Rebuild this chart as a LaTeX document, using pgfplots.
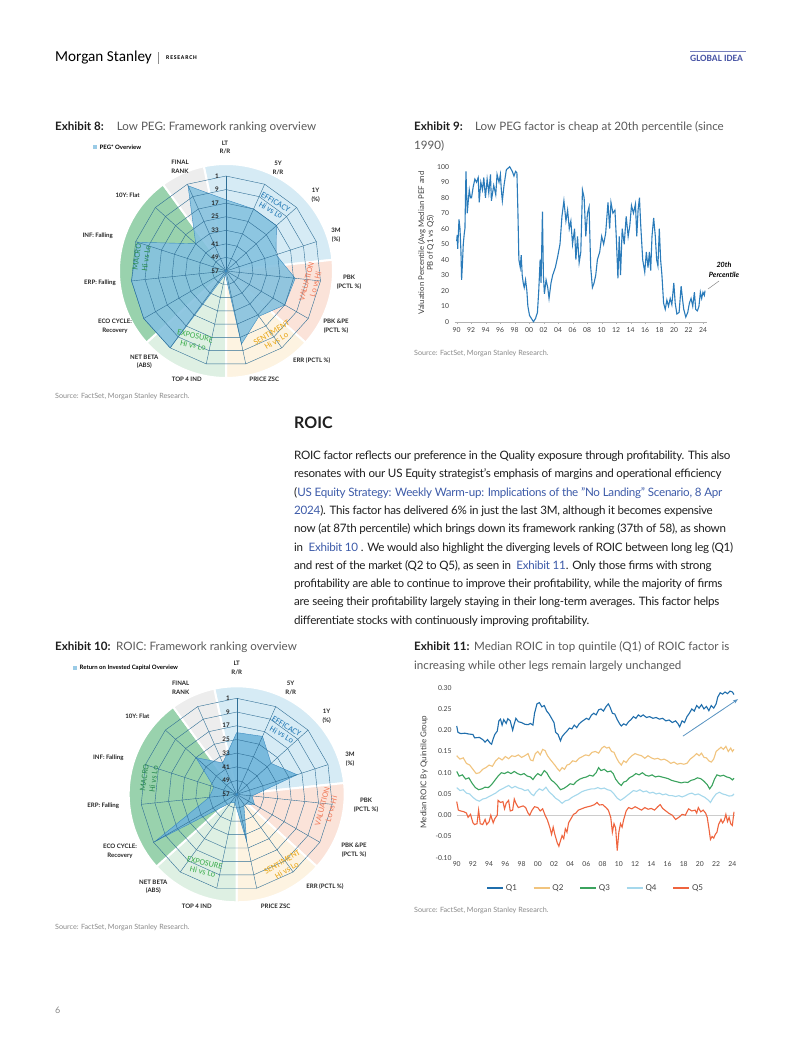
\documentclass[border=0pt]{standalone}
\usepackage{fontspec}
\setmainfont{Lato}
\newfontfamily\calib{Carlito}
\usepackage{pgfplots}
\pgfplotsset{compat=1.18}
\usepgfplotslibrary{polar}
\usetikzlibrary{arrows.meta}

\definecolor{txt}{HTML}{1F1F1F}
\definecolor{capg}{HTML}{5A5A5A}
\definecolor{srcg}{HTML}{8A8A8A}
\definecolor{link}{HTML}{3D5BA9}
\definecolor{msblue}{HTML}{4A56A6}
\definecolor{effc}{HTML}{D6EBF5}
\definecolor{valc}{HTML}{FBE3D9}
\definecolor{senc}{HTML}{FDF3E1}
\definecolor{expc}{HTML}{DEF0E3}
\definecolor{macc}{HTML}{99D2AD}
\definecolor{finc}{HTML}{EDEDED}
\definecolor{radfill}{HTML}{6FB5DB}
\definecolor{radfillb}{HTML}{86C2DF}
\definecolor{radline}{HTML}{3A8AC0}
\definecolor{gridc}{HTML}{2F6E95}
\definecolor{efft}{HTML}{1F77B4}
\definecolor{valt}{HTML}{F07A5A}
\definecolor{sent}{HTML}{E8A512}
\definecolor{expt}{HTML}{3DAE4E}
\definecolor{mact}{HTML}{2A8A50}
\definecolor{lineb}{HTML}{2A7BBA}
\definecolor{qa}{HTML}{1F6EAC}
\definecolor{qb}{HTML}{F1C47E}
\definecolor{qc}{HTML}{3BA35E}
\definecolor{qd}{HTML}{A5D8EC}
\definecolor{qe}{HTML}{EF643E}
\definecolor{tickc}{HTML}{404040}

\tikzset{t/.style={inner sep=0pt, anchor=base west},
  rl/.style={inner sep=0pt, align=center, font=\bfseries\fontsize{6.1}{8.6}\selectfont, text=black!85},
  rk/.style={inner sep=0pt, anchor=east, font=\bfseries\fontsize{6.3}{7}\selectfont, text=black!85},
  st/.style={inner sep=0pt, align=center, font=\calib\fontsize{8.4}{9.4}\selectfont}}

\newcommand{\sectors}[3]{%
\begin{scope}[x=1pt,y=-1pt,shift={(#1,#2)}]
\filldraw[fill=effc,draw=white,line width=2pt] (0pt,0pt) -- (102:#3pt) arc[start angle=102,end angle=6,radius=#3pt] -- cycle;
\filldraw[fill=valc,draw=white,line width=2pt] (0pt,0pt) -- (6:#3pt) arc[start angle=6,end angle=-42,radius=#3pt] -- cycle;
\filldraw[fill=senc,draw=white,line width=2pt] (0pt,0pt) -- (-42:#3pt) arc[start angle=-42,end angle=-90,radius=#3pt] -- cycle;
\filldraw[fill=expc,draw=white,line width=2pt] (0pt,0pt) -- (-90:#3pt) arc[start angle=-90,end angle=-138,radius=#3pt] -- cycle;
\filldraw[fill=macc,draw=white,line width=2pt] (0pt,0pt) -- (222:#3pt) arc[start angle=222,end angle=126,radius=#3pt] -- cycle;
\filldraw[fill=finc,draw=white,line width=2pt] (0pt,0pt) -- (126:#3pt) arc[start angle=126,end angle=102,radius=#3pt] -- cycle;
\end{scope}}

\newcommand{\radargrid}{%
\pgfplotsinvokeforeach{8,16,24,32,40,48,56}{\addplot[gridc,line width=0.4pt] coordinates {(90,##1)(66,##1)(42,##1)(18,##1)(354,##1)(330,##1)(306,##1)(282,##1)(258,##1)(234,##1)(210,##1)(186,##1)(162,##1)(138,##1)(114,##1)(90,##1)};}
\pgfplotsinvokeforeach{90,66,42,18,354,330,306,282,258,234,210,186,162,138,114}{\addplot[gridc,line width=0.4pt] coordinates {(##1,0)(##1,56)};}
}

\begin{document}
\begin{tikzpicture}
\begin{scope}[x=1pt,y=-1pt]
\useasboundingbox (0,0) rectangle (802,1037);
\fill[white] (0,0) rectangle (802,1037);

% ---------- header ----------
\node[inner sep=0pt, anchor=west, font=\calib\fontsize{15.2}{16}\selectfont] at (55,57.5) {Morgan Stanley};
\draw[black!45, line width=0.5pt] (158.5,52) -- (158.5,63.5);
\node[inner sep=0pt, anchor=west, font=\calib\bfseries\fontsize{5.8}{6}\selectfont\addfontfeatures{LetterSpace=14}] at (166,58) {RESEARCH};
\draw[msblue!75, line width=1.6pt] (690,51.5) -- (746,51.5);
\node[inner sep=0pt, anchor=west, font=\calib\bfseries\fontsize{9.6}{10}\selectfont, text=msblue] at (690,58.5) {GLOBAL IDEA};

% ---------- captions ----------
\begin{scope}[font=\fontsize{11.6}{14}\selectfont]
\node[t] at (55,130.3) {\bfseries\color{txt}Exhibit 8:};
\node[t] at (116.7,130.3) {\color{capg}Low PEG: Framework ranking overview};
\node[t] at (414,130.3) {\bfseries\color{txt}Exhibit 9:};
\node[t] at (475,130.3) {\color{capg}Low PEG factor is cheap at 20th percentile (since};
\node[t] at (414,149.3) {\color{capg}1990)};
\node[t] at (55,650.5) {\bfseries\color{txt}Exhibit 10:};
\node[t] at (116,650.5) {\color{capg}ROIC: Framework ranking overview};
\node[t] at (414,650.5) {\bfseries\color{txt}Exhibit 11:};
\node[t] at (474,650.5) {\color{capg}Median ROIC in top quintile (Q1) of ROIC factor is};
\node[t] at (414,669) {\color{capg}increasing while other legs remain largely unchanged};
\end{scope}

% ---------- sources ----------
\begin{scope}[font=\fontsize{7.2}{8}\selectfont, text=srcg]
\node[t] at (55,398.5) {Source: FactSet, Morgan Stanley Research.};
\node[t] at (414,355.3) {Source: FactSet, Morgan Stanley Research.};
\node[t] at (55,929) {Source: FactSet, Morgan Stanley Research.};
\node[t] at (414,912) {Source: FactSet, Morgan Stanley Research.};
\end{scope}

% ---------- body text ----------
\node[t, font=\bfseries\fontsize{16}{18}\selectfont, text=txt] at (294,428.5) {ROIC};
\begin{scope}[font=\fontsize{11.6}{14}\selectfont\addfontfeatures{LetterSpace=-2.2}, text=txt]
\node[t] at (294,459.5) {ROIC factor reflects our preference in the Quality exposure through profitability. This also};
\node[t] at (294,477.8) {resonates with our US Equity strategist's emphasis of margins and operational efficiency};
\node[t] at (294,496.1) {({\color{link}US Equity Strategy: Weekly Warm-up: Implications of the "No Landing" Scenario, 8 Apr}};
\node[t] at (294,514.4) {{\color{link}2024}). This factor has delivered 6\% in just the last 3M, although it becomes expensive};
\node[t] at (294,532.7) {now (at 87th percentile) which brings down its framework ranking (37th of 58), as shown};
\node[t] at (294,551.0) {in \ {\color{link}Exhibit 10} . We would also highlight the diverging levels of ROIC between long leg (Q1)};
\node[t] at (294,569.3) {and rest of the market (Q2 to Q5), as seen in \ {\color{link}Exhibit 11}. Only those firms with strong};
\node[t] at (294,587.6) {profitability are able to continue to improve their profitability, while the majority of firms};
\node[t] at (294,605.9) {are seeing their profitability largely staying in their long-term averages. This factor helps};
\node[t] at (294,624.2) {differentiate stocks with continuously improving profitability.};
\end{scope}
\node[inner sep=0pt, anchor=west, font=\fontsize{9}{10}\selectfont, text=srcg] at (55,1010) {6};
\end{scope}

% ================= Exhibit 8 radar =================
\sectors{226}{271}{107}
\begin{polaraxis}[at={(226pt,-271pt)}, anchor=center, scale only axis, width=190pt, height=190pt,
  ymin=0, ymax=56, hide axis, clip=false]
\addplot[fill=radfillb, fill opacity=0.9, draw=radline, line width=0.4pt] coordinates {(90,42)(66,40)(42,40)(18,31)(354,41)(330,40)(306,33)(282,44)(258,2)(234,56)(210,56)(186,56)(162,55)(138,24)(114,55)(90,42)};
\radargrid
\end{polaraxis}

% ================= Exhibit 10 radar =================
\sectors{236.7}{794.3}{108}
\begin{polaraxis}[at={(236.7pt,-794.3pt)}, anchor=center, scale only axis, width=192pt, height=192pt,
  ymin=0, ymax=56, hide axis, clip=false]
\addplot[fill=radfill, fill opacity=0.9, draw=radline, line width=0.4pt] coordinates {(90,36)(66,37)(42,27)(18,37)(354,9)(330,12)(306,7)(282,28)(258,5)(234,6)(210,55)(186,16)(162,14)(138,32)(114,20)(90,36)};
\radargrid
\end{polaraxis}

\begin{scope}[x=1pt,y=-1pt]
\fill[radline] (226,271) circle (1.5pt);
\foreach \yy/\lab in {176.0/1,189.6/9,203.1/17,216.7/25,230.3/33,243.9/41,257.4/49,271.0/57}
  \node[rk] at (219,\yy) {\lab};
\fill[radfill!70] (93,144.8) rectangle (97,148.8);
\node[inner sep=0pt, anchor=west, font=\bfseries\fontsize{6}{7}\selectfont] at (99.5,146.8) {PEG* Overview};
\node[rl] at (225,147.5) {LT\\R/R};
\node[rl] at (180,166.5) {FINAL\\RANK};
\node[rl] at (278,168) {5Y\\R/R};
\node[rl] at (315.7,195.5) {1Y\\(\%)};
\node[rl] at (336,235) {3M\\(\%)};
\node[rl] at (349,282) {PBK\\(PCTL \%)};
\node[rl] at (336,326.5) {PBK \&PE\\(PCTL \%)};
\node[rl] at (311.7,360.7) {ERR (PCTL \%)};
\node[rl] at (264.3,379.3) {PRICE ZSC};
\node[rl] at (186.7,379.3) {TOP 4 IND};
\node[rl] at (144.3,361.7) {NET BETA\\(ABS)};
\node[rl] at (115,326.3) {ECO CYCLE:\\Recovery};
\node[rl] at (100,282.7) {ERP: Falling};
\node[rl] at (97.7,236) {INF: Falling};
\node[rl] at (127.7,195) {10Y: Flat};
\node[st, text=efft, rotate=-30] at (273.2,206.2) {EFFICACY\\Hi vs Lo};
\node[st, text=valt, rotate=75] at (311.1,282.8) {VALUATION\\Lo vs Hi};
\node[st, text=sent, rotate=31] at (273.9,336.8) {SENTIMENT\\Hi vs Lo};
\node[st, text=expt, rotate=-13] at (194.2,340.8) {EXPOSURE\\Hi vs Lo};
\node[st, text=mact, rotate=82] at (141.5,257.5) {MACRO\\Hi vs Lo};

\fill[radline] (236.7,794.3) circle (1.5pt);
\foreach \yy/\lab in {698.3/1,712.0/9,725.7/17,739.4/25,753.2/33,766.9/41,780.6/49,794.3/57}
  \node[rk] at (230,\yy) {\lab};
\fill[radfill!70] (73,665.7) rectangle (77,669.7);
\node[inner sep=0pt, anchor=west, font=\bfseries\fontsize{6}{7}\selectfont] at (79.5,667.7) {Return on Invested Capital Overview};
\node[rl] at (236.7,668) {LT\\R/R};
\node[rl] at (180.7,688) {FINAL\\RANK};
\node[rl] at (290.7,688) {5Y\\R/R};
\node[rl] at (326.7,716.2) {1Y\\(\%)};
\node[rl] at (350,759.5) {3M\\(\%)};
\node[rl] at (366,805) {PBK\\(PCTL \%)};
\node[rl] at (354,850.5) {PBK \&PE\\(PCTL \%)};
\node[rl] at (325,886.7) {ERR (PCTL \%)};
\node[rl] at (275.7,906) {PRICE ZSC};
\node[rl] at (196.7,906) {TOP 4 IND};
\node[rl] at (153.3,886.7) {NET BETA\\(ABS)};
\node[rl] at (120,851.2) {ECO CYCLE:\\Recovery};
\node[rl] at (103.3,806) {ERP: Falling};
\node[rl] at (108.3,757.7) {INF: Falling};
\node[rl] at (137.3,716.7) {10Y: Flat};
\node[st, text=efft, rotate=-30] at (284.1,730.5) {EFFICACY\\Hi vs Lo};
\node[st, text=valt, rotate=75] at (326.9,807.7) {VALUATION\\Lo vs Hi};
\node[st, text=sent, rotate=31] at (284.5,866.2) {SENTIMENT\\Hi vs Lo};
\node[st, text=expt, rotate=-13] at (203.8,867.2) {EXPOSURE\\Hi vs Lo};
\node[st, text=mact, rotate=82] at (149,778.3) {MACRO\\Hi vs Lo};

\node[inner sep=0pt, rotate=90, align=center, font=\fontsize{7.8}{8.6}\selectfont, text=black!75] at (426,243) {Valuation Percentile (Avg Median PEF and\\PB of Q1 vs Q5)};
\node[inner sep=0pt, align=center, font=\bfseries\itshape\fontsize{7.2}{9.5}\selectfont] at (724,270) {20th\\Percentile};
\draw[black!45, line width=0.5pt] (708,289) -- (719,281);
\node[inner sep=0pt, rotate=90, font=\fontsize{8}{9}\selectfont, text=black!75] at (424,772) {Median ROIC By Quintile Group};
\end{scope}

% ================= Exhibit 9 =================
\begin{axis}[at={(454.5pt,-321.7pt)}, anchor=south west, scale only axis, width=252.3pt, height=155pt,
  xmin=1989.7, xmax=2024.5, ymin=0, ymax=100,
  axis x line*=bottom, axis y line*=left,
  x axis line style={draw=black!30}, y axis line style={draw=none},
  xtick={1990,1992,...,2024}, xticklabels={90,92,94,96,98,00,02,04,06,08,10,12,14,16,18,20,22,24},
  ytick={0,10,...,100},
  tick label style={font=\fontsize{6.8}{8}\selectfont, text=tickc},
  /pgf/number format/assume math mode=true,
  xtick style={draw=black!30}, ytick style={draw=none},
  major tick length=2pt, tick align=outside, clip=false]
\addplot[lineb, line width=1.1pt] table[x=x,y=y] {
x y
1990.00 52
1990.07 56
1990.14 47
1990.32 66
1990.46 60
1990.59 45
1990.68 27
1990.80 38
1990.91 50
1991.05 57
1991.14 60
1991.28 97
1991.46 70
1991.60 78
1991.74 85
1991.90 80
1992.05 80
1992.28 87
1992.51 92
1992.74 90
1992.97 93
1993.11 77
1993.33 90
1993.56 85
1993.74 93
1993.97 80
1994.20 92
1994.43 83
1994.66 95
1994.79 78
1995.11 88
1995.39 82
1995.57 95
1995.84 90
1996.03 95
1996.16 85
1996.30 78
1996.53 88
1996.85 98
1997.31 100
1997.67 97
1997.90 94
1998.13 97
1998.31 96
1998.45 70
1998.58 40
1998.77 35
1998.90 43
1999.04 30
1999.18 25
1999.32 22
1999.50 27
1999.68 20
1999.82 10
2000.05 4
2000.32 2
2000.59 0
2000.87 2
2001.14 6
2001.32 20
2001.51 40
2001.64 25
2001.83 71
2001.96 30
2002.10 18
2002.33 27
2002.56 22
2002.74 15
2003.01 25
2003.24 30
2003.61 35
2003.93 42
2004.25 50
2004.52 68
2004.79 78
2005.07 65
2005.30 72
2005.53 60
2005.75 65
2005.98 50
2006.26 60
2006.44 40
2006.67 55
2006.89 38
2007.12 45
2007.35 85
2007.58 80
2007.81 55
2008.04 70
2008.26 74
2008.49 35
2008.72 22
2008.95 25
2009.18 30
2009.41 40
2009.73 45
2010.00 55
2010.27 50
2010.55 57
2010.87 77
2011.10 60
2011.28 77
2011.55 70
2011.83 72
2012.01 55
2012.24 28
2012.42 55
2012.60 30
2012.83 60
2013.11 50
2013.38 68
2013.65 55
2013.88 62
2014.11 75
2014.38 70
2014.66 76
2014.84 55
2015.02 72
2015.21 80
2015.39 62
2015.66 40
2015.94 32
2016.16 45
2016.39 35
2016.58 45
2016.76 33
2016.94 55
2017.17 67
2017.40 55
2017.58 40
2017.76 36
2017.95 60
2018.13 40
2018.31 30
2018.54 12
2018.77 8
2018.99 14
2019.22 10
2019.45 15
2019.68 11
2019.95 25
2020.14 12
2020.37 5
2020.68 6
2020.96 23
2021.14 15
2021.32 8
2021.60 3
2021.87 6
2022.10 12
2022.33 15
2022.56 10
2022.79 19
2022.97 8
2023.20 7
2023.42 10
2023.61 19
2023.79 15
2023.97 19
2024.16 17
2024.25 20
};
\end{axis}

% ================= Exhibit 11 =================
\begin{axis}[at={(455.1pt,-857.7pt)}, anchor=south west, scale only axis, width=281.3pt, height=170pt,
  xmin=1989.8, xmax=2024.5, ymin=-0.1, ymax=0.3,
  axis x line*=bottom, axis y line*=left,
  x axis line style={draw=none}, y axis line style={draw=none},
  xtick={1990,1992,...,2024}, xticklabels={90,92,94,96,98,00,02,04,06,08,10,12,14,16,18,20,22,24},
  ytick={-0.10,-0.05,0,0.05,0.10,0.15,0.20,0.25,0.30},
  yticklabel style={/pgf/number format/.cd, fixed, fixed zerofill, precision=2},
  tick label style={font=\fontsize{6.8}{8}\selectfont, text=tickc},
  /pgf/number format/assume math mode=true,
  xtick style={draw=none}, ytick style={draw=none},
  clip=false,
  legend columns=5,
  legend style={at={(0.5,-0.178)}, anchor=center, draw=none, fill=none,
    font=\fontsize{8}{9}\selectfont, text=tickc,
    /tikz/every even column/.append style={column sep=14pt}},
  legend image code/.code={\draw[#1, line width=1.5pt] (0pt,0pt) -- (16pt,0pt);}]
\addplot[black!20, line width=0.6pt, forget plot] coordinates {(1990,0) (2024.3,0)};
\addplot[qa, line width=1.1pt] table[x=x,y=y] {
x y
1990.0 0.210
1990.15 0.195
1990.5 0.192
1991.0 0.193
1991.5 0.191
1992.0 0.190
1992.2 0.182
1992.8 0.183
1993.2 0.178
1993.5 0.172
1993.8 0.178
1994.1 0.170
1994.3 0.167
1994.5 0.180
1994.7 0.190
1995.0 0.198
1995.2 0.222
1995.4 0.226
1995.6 0.212
1995.8 0.225
1996.1 0.216
1996.3 0.227
1996.6 0.222
1996.9 0.200
1997.1 0.215
1997.3 0.228
1997.6 0.220
1998.0 0.218
1998.4 0.214
1998.8 0.213
1999.1 0.216
1999.4 0.212
1999.6 0.240
1999.9 0.262
2000.2 0.265
2000.5 0.255
2000.8 0.258
2001.1 0.245
2001.4 0.238
2001.7 0.228
2002.0 0.218
2002.2 0.195
2002.5 0.190
2002.8 0.175
2003.0 0.185
2003.3 0.192
2003.6 0.198
2003.9 0.205
2004.2 0.203
2004.5 0.212
2004.8 0.206
2005.1 0.215
2005.4 0.220
2005.7 0.224
2006.0 0.228
2006.3 0.225
2006.6 0.235
2006.9 0.240
2007.2 0.236
2007.5 0.248
2007.8 0.250
2008.1 0.245
2008.4 0.255
2008.7 0.262
2008.9 0.255
2009.2 0.240
2009.5 0.238
2009.8 0.225
2010.1 0.215
2010.3 0.210
2010.6 0.215
2010.9 0.212
2011.2 0.220
2011.5 0.225
2011.8 0.232
2012.1 0.228
2012.4 0.236
2012.7 0.232
2013.0 0.236
2013.4 0.230
2013.8 0.232
2014.2 0.228
2014.6 0.230
2015.0 0.226
2015.4 0.228
2015.8 0.222
2016.2 0.224
2016.6 0.218
2017.0 0.222
2017.3 0.215
2017.5 0.208
2017.8 0.222
2018.1 0.218
2018.4 0.232
2018.7 0.240
2019.0 0.250
2019.3 0.245
2019.6 0.258
2019.9 0.252
2020.2 0.260
2020.5 0.250
2020.8 0.256
2021.1 0.246
2021.4 0.258
2021.7 0.252
2022.0 0.262
2022.2 0.278
2022.5 0.288
2022.8 0.285
2023.1 0.290
2023.4 0.286
2023.7 0.292
2024.0 0.290
2024.2 0.284
};
\addlegendentry{Q1}
\addplot[qb, line width=1.1pt] table[x=x,y=y] {
x y
1990.0 0.140
1990.4 0.132
1990.8 0.135
1991.2 0.122
1991.6 0.118
1992.0 0.108
1992.4 0.098
1992.8 0.100
1993.2 0.108
1993.6 0.112
1994.0 0.118
1994.4 0.115
1994.8 0.128
1995.2 0.135
1995.6 0.130
1996.0 0.138
1996.4 0.133
1996.8 0.140
1997.2 0.138
1997.6 0.142
1998.0 0.136
1998.4 0.140
1998.8 0.145
1999.1 0.130
1999.4 0.128
1999.7 0.145
2000.0 0.150
2000.3 0.142
2000.6 0.155
2000.9 0.152
2001.2 0.140
2001.5 0.132
2001.8 0.125
2002.1 0.118
2002.4 0.110
2002.7 0.104
2003.0 0.112
2003.3 0.108
2003.6 0.118
2003.9 0.120
2004.3 0.128
2004.7 0.126
2005.1 0.134
2005.5 0.138
2005.9 0.142
2006.3 0.140
2006.7 0.148
2007.1 0.150
2007.5 0.146
2007.9 0.158
2008.2 0.162
2008.5 0.158
2008.8 0.160
2009.1 0.150
2009.4 0.148
2009.7 0.135
2010.0 0.125
2010.3 0.118
2010.6 0.128
2010.9 0.124
2011.2 0.132
2011.6 0.140
2012.0 0.145
2012.4 0.142
2012.8 0.140
2013.2 0.134
2013.6 0.140
2014.0 0.135
2014.4 0.132
2014.8 0.134
2015.2 0.130
2015.6 0.132
2016.0 0.128
2016.4 0.122
2016.8 0.125
2017.2 0.120
2017.6 0.122
2018.0 0.120
2018.4 0.122
2018.8 0.132
2019.2 0.138
2019.6 0.145
2019.9 0.140
2020.2 0.146
2020.5 0.136
2020.8 0.135
2021.1 0.128
2021.4 0.125
2021.7 0.132
2022.0 0.150
2022.3 0.155
2022.6 0.160
2022.9 0.155
2023.2 0.162
2023.5 0.150
2023.8 0.158
2024.0 0.150
2024.2 0.155
};
\addlegendentry{Q2}
\addplot[qc, line width=1.1pt] table[x=x,y=y] {
x y
1990.0 0.103
1990.3 0.092
1990.7 0.095
1991.1 0.085
1991.5 0.088
1991.9 0.075
1992.3 0.065
1992.7 0.060
1993.1 0.062
1993.5 0.066
1993.9 0.065
1994.3 0.072
1994.7 0.082
1995.1 0.092
1995.5 0.100
1995.9 0.098
1996.3 0.102
1996.7 0.098
1997.1 0.103
1997.5 0.098
1997.9 0.095
1998.3 0.098
1998.7 0.092
1999.1 0.090
1999.4 0.084
1999.7 0.092
2000.0 0.098
2000.4 0.093
2000.8 0.105
2001.1 0.100
2001.4 0.090
2001.7 0.082
2002.0 0.078
2002.4 0.070
2002.8 0.060
2003.2 0.063
2003.6 0.068
2004.0 0.074
2004.4 0.072
2004.8 0.080
2005.2 0.085
2005.6 0.088
2006.0 0.090
2006.4 0.094
2006.8 0.092
2007.2 0.100
2007.5 0.112
2007.8 0.105
2008.2 0.108
2008.6 0.102
2009.0 0.104
2009.3 0.098
2009.6 0.085
2010.0 0.075
2010.3 0.070
2010.6 0.078
2010.9 0.080
2011.3 0.088
2011.7 0.092
2012.1 0.098
2012.5 0.095
2012.9 0.100
2013.3 0.094
2013.7 0.092
2014.1 0.095
2014.5 0.090
2014.9 0.092
2015.3 0.090
2015.7 0.088
2016.1 0.086
2016.5 0.082
2016.9 0.080
2017.3 0.078
2017.7 0.076
2018.1 0.078
2018.5 0.077
2018.9 0.082
2019.3 0.084
2019.7 0.088
2020.1 0.086
2020.5 0.080
2020.9 0.072
2021.2 0.062
2021.5 0.070
2021.8 0.085
2022.1 0.095
2022.5 0.092
2022.9 0.094
2023.3 0.090
2023.7 0.088
2024.0 0.083
2024.2 0.087
};
\addlegendentry{Q3}
\addplot[qd, line width=1.1pt] table[x=x,y=y] {
x y
1990.0 0.065
1990.4 0.058
1990.8 0.060
1991.2 0.052
1991.6 0.050
1992.0 0.042
1992.4 0.036
1992.8 0.033
1993.2 0.038
1993.6 0.040
1994.0 0.044
1994.4 0.048
1994.8 0.052
1995.2 0.058
1995.6 0.062
1996.0 0.066
1996.4 0.070
1996.8 0.064
1997.2 0.068
1997.6 0.064
1998.0 0.062
1998.4 0.058
1998.8 0.060
1999.2 0.050
1999.5 0.046
1999.8 0.055
2000.2 0.062
2000.6 0.058
2001.0 0.066
2001.4 0.055
2001.8 0.048
2002.2 0.040
2002.6 0.035
2003.0 0.028
2003.4 0.034
2003.8 0.036
2004.2 0.042
2004.6 0.046
2005.0 0.050
2005.4 0.055
2005.8 0.058
2006.2 0.060
2006.6 0.062
2007.0 0.062
2007.4 0.065
2007.8 0.062
2008.2 0.064
2008.6 0.060
2009.0 0.058
2009.4 0.050
2009.8 0.040
2010.2 0.035
2010.6 0.040
2011.0 0.046
2011.4 0.052
2011.8 0.058
2012.2 0.056
2012.6 0.060
2013.0 0.055
2013.4 0.057
2013.8 0.052
2014.2 0.054
2014.6 0.050
2015.0 0.052
2015.4 0.048
2015.8 0.050
2016.2 0.046
2016.6 0.046
2017.0 0.044
2017.4 0.046
2017.8 0.043
2018.2 0.046
2018.6 0.050
2019.0 0.052
2019.4 0.048
2019.8 0.050
2020.2 0.046
2020.6 0.042
2021.0 0.036
2021.3 0.030
2021.6 0.040
2022.0 0.050
2022.4 0.054
2022.8 0.050
2023.2 0.048
2023.6 0.045
2024.0 0.046
2024.2 0.050
};
\addlegendentry{Q4}
\addplot[qe, line width=1.1pt] table[x=x,y=y] {
x y
1990.0 0.032
1990.2 0.012
1990.5 0.010
1990.9 0.008
1991.2 0.005
1991.4 -0.005
1991.7 0.002
1992.0 -0.018
1992.2 -0.022
1992.5 -0.020
1992.7 0.012
1992.9 -0.020
1993.2 -0.022
1993.5 -0.010
1993.7 -0.022
1994.0 -0.015
1994.2 0.000
1994.5 -0.018
1994.7 -0.008
1995.0 0.000
1995.1 0.035
1995.4 0.030
1995.7 0.032
1995.9 0.015
1996.1 0.028
1996.4 0.035
1996.6 0.010
1996.9 0.012
1997.1 0.038
1997.3 0.028
1997.6 0.018
1997.9 0.020
1998.2 0.022
1998.5 0.018
1998.8 0.005
1999.0 0.000
1999.3 0.012
1999.6 0.020
2000.0 0.018
2000.3 0.010
2000.6 0.015
2000.9 0.000
2001.2 -0.012
2001.5 -0.030
2001.7 -0.045
2001.9 -0.028
2002.1 -0.045
2002.4 -0.065
2002.6 -0.073
2002.8 -0.060
2003.0 -0.048
2003.2 -0.055
2003.4 -0.032
2003.6 -0.040
2003.8 -0.018
2004.1 -0.008
2004.4 0.002
2004.7 0.005
2005.0 0.012
2005.4 0.015
2005.8 0.018
2006.2 0.020
2006.6 0.022
2007.0 0.025
2007.3 0.030
2007.6 0.024
2008.0 0.025
2008.4 0.018
2008.7 0.012
2009.0 -0.005
2009.2 -0.040
2009.4 -0.020
2009.6 -0.030
2009.8 -0.083
2010.0 -0.040
2010.2 -0.020
2010.4 -0.028
2010.6 -0.010
2010.9 0.010
2011.2 0.018
2011.6 0.015
2012.0 0.020
2012.4 0.016
2012.8 0.012
2013.2 0.018
2013.6 0.014
2014.0 0.016
2014.4 0.012
2014.8 0.020
2015.1 0.025
2015.4 0.016
2015.8 0.010
2016.2 0.004
2016.6 0.000
2017.0 -0.010
2017.4 -0.005
2017.8 0.002
2018.2 0.000
2018.6 0.015
2019.0 0.010
2019.4 0.012
2019.6 0.005
2019.8 0.018
2020.1 0.008
2020.4 0.012
2020.7 0.005
2020.9 -0.005
2021.1 -0.030
2021.3 -0.057
2021.5 -0.050
2021.7 -0.054
2021.9 -0.045
2022.1 -0.040
2022.3 -0.022
2022.6 -0.010
2022.8 -0.018
2023.0 -0.012
2023.2 0.002
2023.4 -0.015
2023.6 -0.005
2023.8 -0.020
2024.0 -0.024
2024.2 0.008
};
\addlegendentry{Q5}
\draw[-{Stealth[length=5pt]}, color=qa!75, line width=0.8pt] (axis cs:2017.9,0.186) -- (axis cs:2024.7,0.273);
\end{axis}
\end{tikzpicture}
\end{document}
